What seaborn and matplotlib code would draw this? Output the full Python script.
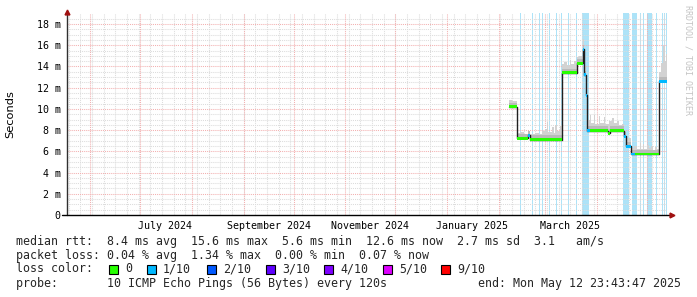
import numpy as np
import pandas as pd
import matplotlib
matplotlib.use("Agg")
import matplotlib.pyplot as plt
import matplotlib.dates as mdates
from matplotlib.patches import Rectangle
from matplotlib.ticker import FixedLocator
import seaborn as sns

# ---------------- data ----------------
t_start = "2024-05-17 23:43:47"
t_end = "2025-05-12 23:43:47"

median_times = ["2025-02-07 00:00", "2025-02-11 19:00", "2025-02-18 17:00", "2025-02-19 22:00",
                "2025-03-10 19:00", "2025-03-19 19:00", "2025-03-23 10:00", "2025-03-24 07:00",
                "2025-03-25 05:00", "2025-03-26 02:00", "2025-03-28 00:00", "2025-04-07 10:00",
                "2025-04-08 14:00", "2025-04-17 00:00", "2025-04-18 05:00", "2025-04-21 05:00",
                "2025-04-24 00:00", "2025-05-08 07:00"]
median_ms = [10.2, 7.25, 7.5, 7.1, 13.4, 14.3, 15.6, 13.2, 11.3, 7.95, 7.95, 7.7, 7.95,
             7.4, 6.5, 5.75, 5.75, 12.6]
median_loss = [0, 0, 1, 0, 0, 0, 1, 1, 1, 1, 0, 0, 0, 1, 1, 1, 0, 1]

smoke_times = ["2025-02-07 00:00", "2025-02-09 00:00", "2025-02-11 19:00", "2025-02-14 00:00",
               "2025-02-16 00:00", "2025-02-18 17:00", "2025-02-20 00:00", "2025-02-23 00:00",
               "2025-02-25 00:00", "2025-02-27 00:00", "2025-03-01 00:00", "2025-03-01 19:00",
               "2025-03-02 14:00", "2025-03-03 12:00", "2025-03-05 00:00", "2025-03-06 00:00",
               "2025-03-07 00:00", "2025-03-08 00:00", "2025-03-09 12:00", "2025-03-10 19:00",
               "2025-03-12 00:00", "2025-03-14 00:00", "2025-03-15 12:00", "2025-03-16 12:00",
               "2025-03-18 00:00", "2025-03-19 19:00", "2025-03-21 00:00", "2025-03-23 10:00",
               "2025-03-24 07:00", "2025-03-25 05:00", "2025-03-26 02:00", "2025-03-27 12:00",
               "2025-03-28 12:00", "2025-03-30 00:00", "2025-03-31 00:00", "2025-04-02 00:00",
               "2025-04-03 00:00", "2025-04-05 00:00", "2025-04-06 00:00", "2025-04-08 00:00",
               "2025-04-10 00:00", "2025-04-11 00:00", "2025-04-13 00:00", "2025-04-14 00:00",
               "2025-04-16 00:00", "2025-04-17 00:00", "2025-04-18 05:00", "2025-04-21 05:00",
               "2025-04-23 00:00", "2025-04-25 00:00", "2025-04-26 12:00", "2025-04-27 08:00",
               "2025-04-28 10:00", "2025-04-29 05:00", "2025-05-01 00:00", "2025-05-02 00:00",
               "2025-05-03 12:00", "2025-05-04 12:00", "2025-05-06 00:00", "2025-05-07 00:00",
               "2025-05-08 07:00", "2025-05-09 12:00", "2025-05-10 12:00", "2025-05-11 12:00",
               "2025-05-12 12:00"]
smoke_hi_ms = [10.85, 10.7, 7.7, 7.8, 7.6, 7.9, 7.6, 7.7, 7.6, 7.9, 8.1, 8.8,
               7.8, 7.85, 8.3, 7.7, 8.5, 7.9, 8.4, 14.2, 14.4, 14.1, 14.6, 14.2,
               14.5, 14.9, 15.0, 16.6, 14.0, 12.5, 9.0, 9.4, 8.7, 9.4, 8.6, 9.3,
               8.7, 9.2, 8.6, 8.9, 9.1, 8.7, 8.9, 8.5, 8.6, 7.9, 7.3, 6.3,
               6.5, 6.2, 6.8, 6.2, 6.7, 6.2, 6.6, 6.3, 6.5, 6.1, 6.4, 6.2,
               13.5, 14.3, 15.9, 14.5, 15.2]

bar_start = ["2025-02-14 00:00", "2025-02-21 06:00", "2025-02-23 04:00", "2025-02-25 00:00",
             "2025-02-27 02:00", "2025-03-03 00:00", "2025-03-07 04:00", "2025-03-10 10:00",
             "2025-03-14 14:00", "2025-03-19 14:00", "2025-03-23 06:00", "2025-04-16 10:00",
             "2025-04-21 18:00", "2025-04-26 14:00", "2025-04-28 10:00", "2025-04-30 18:00",
             "2025-05-06 04:00", "2025-05-09 18:00", "2025-05-11 00:00", "2025-05-12 04:00"]
bar_end = ["2025-02-14 14:00", "2025-02-21 20:00", "2025-02-23 16:00", "2025-02-25 14:00",
           "2025-02-27 16:00", "2025-03-03 14:00", "2025-03-07 18:00", "2025-03-11 04:00",
           "2025-03-15 04:00", "2025-03-20 04:00", "2025-03-27 00:00", "2025-04-20 00:00",
           "2025-04-24 18:00", "2025-04-27 04:00", "2025-04-29 00:00", "2025-05-03 18:00",
           "2025-05-06 18:00", "2025-05-10 08:00", "2025-05-11 14:00", "2025-05-12 18:00"]

month_labels = ["July 2024", "September 2024", "November 2024", "January 2025", "March 2025"]
month_label_dates = ["2024-07-16", "2024-09-16", "2024-11-16", "2025-01-16", "2025-03-16"]
y_ticks = [0, 2, 4, 6, 8, 10, 12, 14, 16, 18]

loss_names = ["0", "1/10", "2/10", "3/10", "4/10", "5/10", "9/10"]
loss_colors = ["#26ff00", "#00b8ff", "#0059ff", "#5e00ff", "#7e00ff", "#dd00ff", "#ff0000"]

line_rtt = "median rtt:  8.4 ms avg  15.6 ms max  5.6 ms min  12.6 ms now  2.7 ms sd  3.1   am/s"
line_loss = "packet loss: 0.04 % avg  1.34 % max  0.00 % min  0.07 % now"
line_probe = "probe:       10 ICMP Echo Pings (56 Bytes) every 120s"
line_end = "end: Mon May 12 23:43:47 2025"

# ---------------- figure ----------------
sns.set_style("white")
plt.rcParams["font.family"] = ["DejaVu Sans Mono"]
W, H = 697, 297
fig = plt.figure(figsize=(W / 100, H / 100), dpi=100)
fig.patch.set_facecolor("white")
L, R, T, B = 67, 667, 13, 215
ax = fig.add_axes([L / W, 1 - B / H, (R - L) / W, (B - T) / H])
ax.set_facecolor("white")

ts, te = pd.Timestamp(t_start), pd.Timestamp(t_end)
ax.set_xlim(ts, te)
ax.set_ylim(0, 19.04)

# light-blue event bars
for s, e in zip(bar_start, bar_end):
    ax.axvspan(pd.Timestamp(s), pd.Timestamp(e), color="#ade3f8", lw=0, zorder=1)

# grid
dots = (0, (1, 1))
for d in pd.date_range("2024-05-19", te, freq="7D"):
    ax.axvline(d, color="#dcdcdc", lw=0.75, ls=dots, zorder=1.5)
for v in np.arange(0.5, 19.0, 0.5):
    if v % 2:
        ax.axhline(v, color="#dcdcdc", lw=0.75, ls=dots, zorder=1.5)
for d in pd.date_range("2024-06-01", te, freq="MS"):
    ax.axvline(d, color="#f3b0b0", lw=0.75, ls=dots, zorder=1.6)
for v in y_ticks[1:]:
    ax.axhline(v, color="#f3b0b0", lw=0.75, ls=dots, zorder=1.6)

# assemble step table
med = pd.DataFrame({"t": pd.to_datetime(median_times), "median": median_ms, "loss": median_loss})
smk = pd.DataFrame({"t": pd.to_datetime(smoke_times), "hi": smoke_hi_ms})
tt = sorted(set(med.t) | set(smk.t)) + [te]
df = pd.DataFrame({"t": pd.to_datetime(tt)})
df = pd.merge_asof(df, med, on="t")
df = pd.merge_asof(df, smk, on="t")

lo = df["median"] - 0.12
ax.fill_between(df.t, lo, df.hi, step="post", color="#d2d2d2", lw=0, zorder=2)
ax.fill_between(df.t, lo, np.minimum(df.hi, df["median"] + 0.4), step="post",
                color="#bababa", lw=0, zorder=2.1)

# median line
mline = pd.DataFrame({"t": list(med.t) + [te], "v": list(med["median"]) + [med["median"].iloc[-1]]})
sns.lineplot(data=mline, x="t", y="v", drawstyle="steps-post", color="#202020",
             lw=1.0, ax=ax, zorder=3, estimator=None)

# loss-coloured band on median
ends = list(med.t[1:]) + [te]
for t0, t1, v, l in zip(med.t, ends, med["median"], med["loss"]):
    ax.fill_between([t0, t1], [v - 0.14] * 2, [v + 0.14] * 2, color=loss_colors[l], lw=0, zorder=3.5)

# axes, ticks
for sp in ax.spines.values():
    sp.set_visible(False)
ax.plot([0, 0], [0, 1.0], transform=ax.transAxes, color="#303030", lw=1, clip_on=False, zorder=5)
ax.plot([-0.008, 1.005], [0, 0], transform=ax.transAxes, color="#000000", lw=1, clip_on=False, zorder=5)
ax.plot([0], [1.005], transform=ax.transAxes, marker="^", ms=3.5, color="#a01010", clip_on=False, zorder=6)
ax.plot([1.008], [0], transform=ax.transAxes, marker=">", ms=3.5, color="#a01010", clip_on=False, zorder=6)

ax.set_yticks(y_ticks)
ax.set_yticklabels(["0"] + [f"{v} m" for v in y_ticks[1:]])
ax.set_xticks(pd.to_datetime(month_label_dates))
ax.set_xticklabels(month_labels)
ax.xaxis.set_minor_locator(FixedLocator(mdates.date2num(pd.date_range("2024-06-01", te, freq="MS"))))
ax.tick_params(axis="x", which="major", length=0, pad=4, labelsize=7.2, colors="#000000")
ax.tick_params(axis="x", which="minor", length=2, width=0.8, color="#000000", direction="out")
ax.tick_params(axis="y", which="major", length=2, width=0.8, pad=2.5, labelsize=7.2,
               colors="#000000", direction="out")
ax.set_xlabel("")
ax.set_ylabel("")

fig.text(10 / W, 1 - 114 / H, "Seconds", rotation=90, ha="center", va="center",
         family="DejaVu Sans", fontsize=8.2, color="#000000")
fig.text(688 / W, 1 - 5 / H, "RRDTOOL / TOBI OETIKER", rotation=270, ha="center", va="top",
         fontsize=6.0, color="#c4c4c4")

def px(x, y):
    return x / W, 1 - y / H

fs = 8.4
fig.text(*px(16, 241), line_rtt, ha="left", va="center", fontsize=fs)
fig.text(*px(16, 256), line_loss, ha="left", va="center", fontsize=fs)
fig.text(*px(16, 269), "loss color:", ha="left", va="center", fontsize=fs)
sq_x = [109, 147, 207, 266, 324, 383, 441]
for x0, name, c in zip(sq_x, loss_names, loss_colors):
    fig.patches.append(Rectangle((x0 / W, 1 - 274 / H), 9 / W, 9 / H, transform=fig.transFigure,
                                 facecolor=c, edgecolor="#000000", lw=0.8))
    fig.text(*px(x0 + 16, 269), name, ha="left", va="center", fontsize=fs)
fig.text(*px(16, 284), line_probe, ha="left", va="center", fontsize=fs)
fig.text(*px(681, 284), line_end, ha="right", va="center", fontsize=fs)

fig.savefig("out.png", dpi=100, facecolor="white")
